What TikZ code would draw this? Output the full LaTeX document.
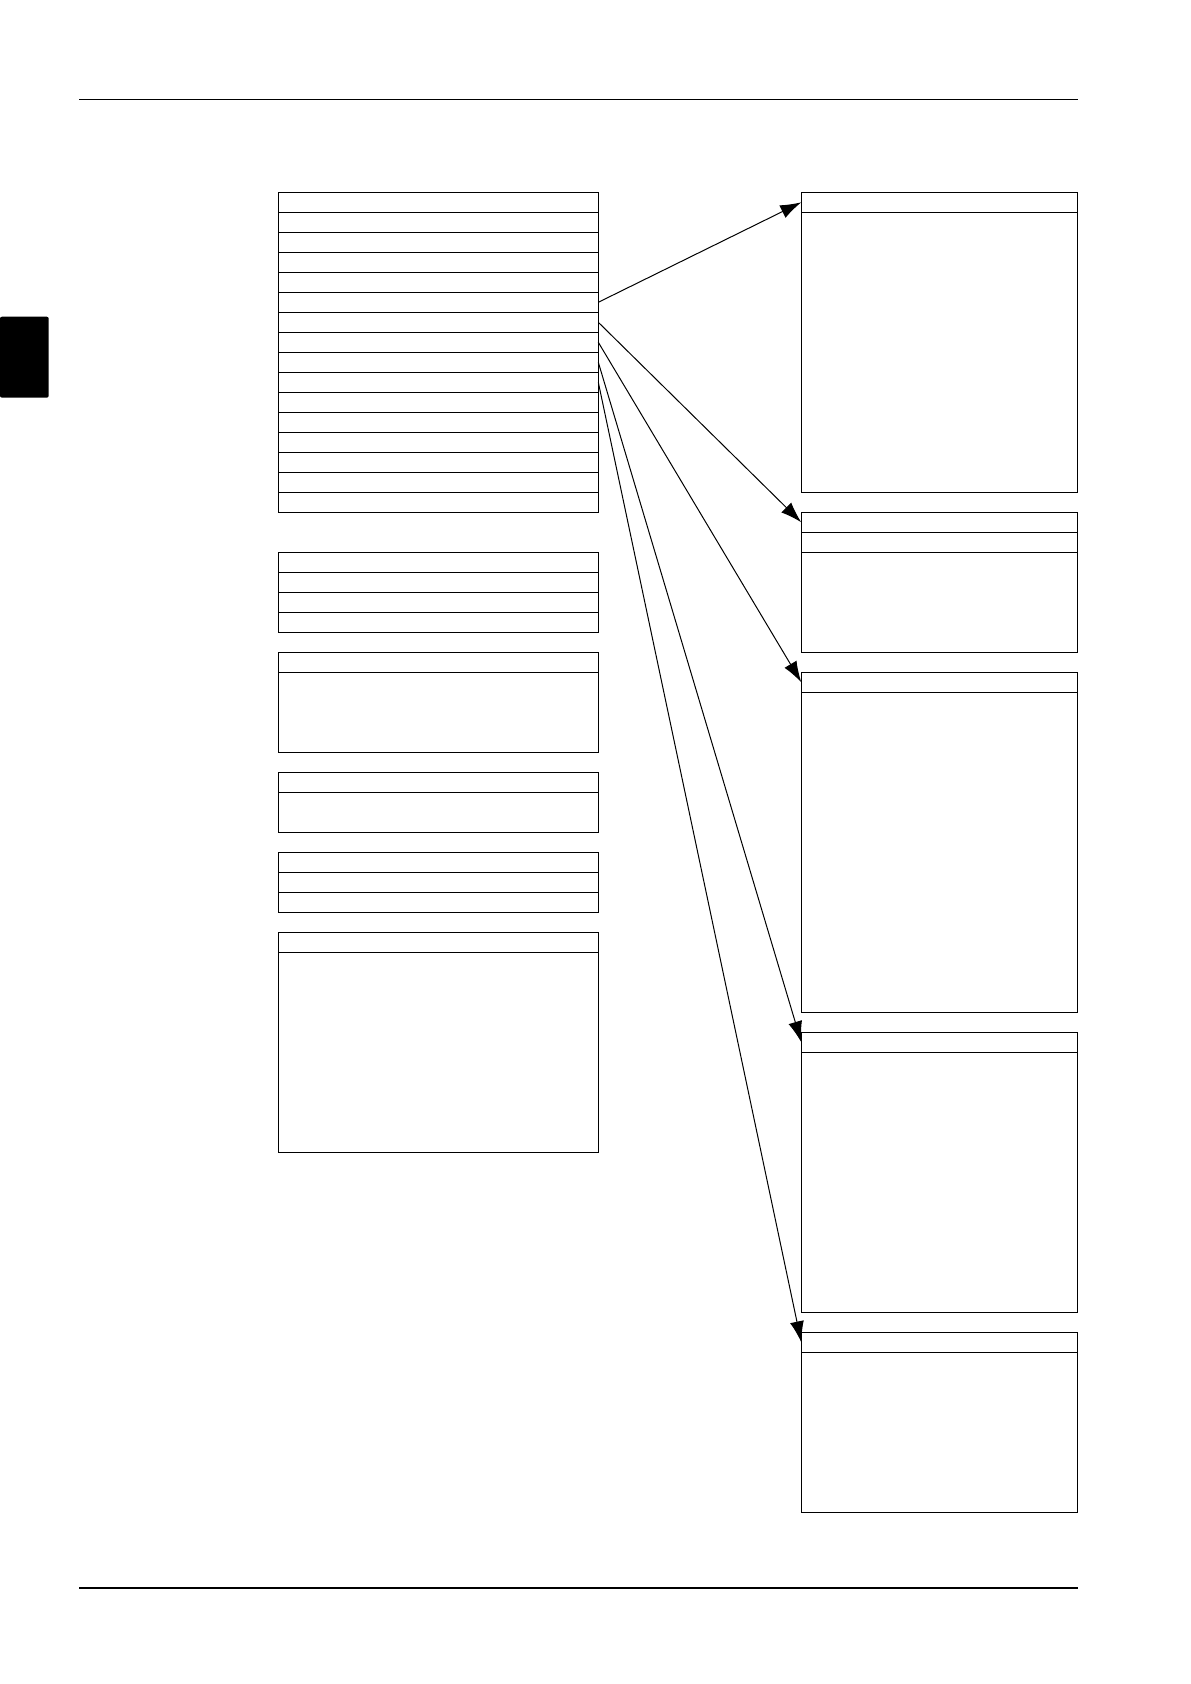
\documentclass[tikz,border=0pt]{standalone}
\usetikzlibrary{positioning,arrows.meta}
\tikzset{
  field/.style={
    draw,
    line width=0.6pt,
    inner sep=0pt,
    outer sep=0pt,
    anchor=north west,
    minimum height=10pt
  },
  field-left/.style={field, minimum width=160pt},
  field-right/.style={field, minimum width=138pt},
  link/.style={line width=0.5pt, -{Latex[length=10.5pt,width=7pt]}},
  page-rule/.style={line width=0.7pt}
}

\begin{document}
\begin{tikzpicture}[x=0.5pt,y=-0.5pt]
  \useasboundingbox (0,0) rectangle (1190,1684);

  % page rules and side tab
  \draw[page-rule] (79,99.3) -- (1077.5,99.3);
  \draw[page-rule] (79,1588) -- (1077.5,1588);
  \fill[rounded corners=1pt] (0,316.7) rectangle (48.7,397.7);

  % left column: long list
  \node[field-left] (L1-1) at (278.3,192.3) {};
  \foreach \i [count=\j] in {2,...,16}{
    \node[field-left, below=0pt of L1-\j] (L1-\i) {};
  }

  % left column: short lists
  \node[field-left] (L2-1) at (278.3,552.3) {};
  \foreach \i [count=\j] in {2,...,4}{
    \node[field-left, below=0pt of L2-\j] (L2-\i) {};
  }
  \node[field-left] (L5-1) at (278.3,852.3) {};
  \foreach \i [count=\j] in {2,3}{
    \node[field-left, below=0pt of L5-\j] (L5-\i) {};
  }

  % left column: header + body boxes
  \node[field-left] (L3-h) at (278.3,652.3) {};
  \node[field-left, minimum height=40pt, below=0pt of L3-h] (L3-b) {};
  \node[field-left] (L4-h) at (278.3,772.3) {};
  \node[field-left, minimum height=20pt, below=0pt of L4-h] (L4-b) {};
  \node[field-left] (L6-h) at (278.3,932.3) {};
  \node[field-left, minimum height=100pt, below=0pt of L6-h] (L6-b) {};

  % right column
  \node[field-right] (R1-h) at (801.3,192.3) {};
  \node[field-right, minimum height=140pt, below=0pt of R1-h] (R1-b) {};
  \node[field-right] (R2-h) at (801.3,512.3) {};
  \node[field-right, below=0pt of R2-h] (R2-r) {};
  \node[field-right, minimum height=50pt, below=0pt of R2-r] (R2-b) {};
  \node[field-right] (R3-h) at (801.3,672.3) {};
  \node[field-right, minimum height=160pt, below=0pt of R3-h] (R3-b) {};
  \node[field-right] (R4-h) at (801.3,1032.3) {};
  \node[field-right, minimum height=130pt, below=0pt of R4-h] (R4-b) {};
  \node[field-right] (R5-h) at (801.3,1332.3) {};
  \node[field-right, minimum height=80pt, below=0pt of R5-h] (R5-b) {};

  % links from the long list
  \draw[link] (L1-6.east) -- (R1-h.west);
  \draw[link] (L1-7.east) -- (R2-h.west);
  \draw[link] (L1-8.east) -- (R3-h.west);
  \draw[link] (L1-9.east) -- (R4-h.west);
  \draw[link] (L1-10.east) -- (R5-h.west);

\end{tikzpicture}
\end{document}
